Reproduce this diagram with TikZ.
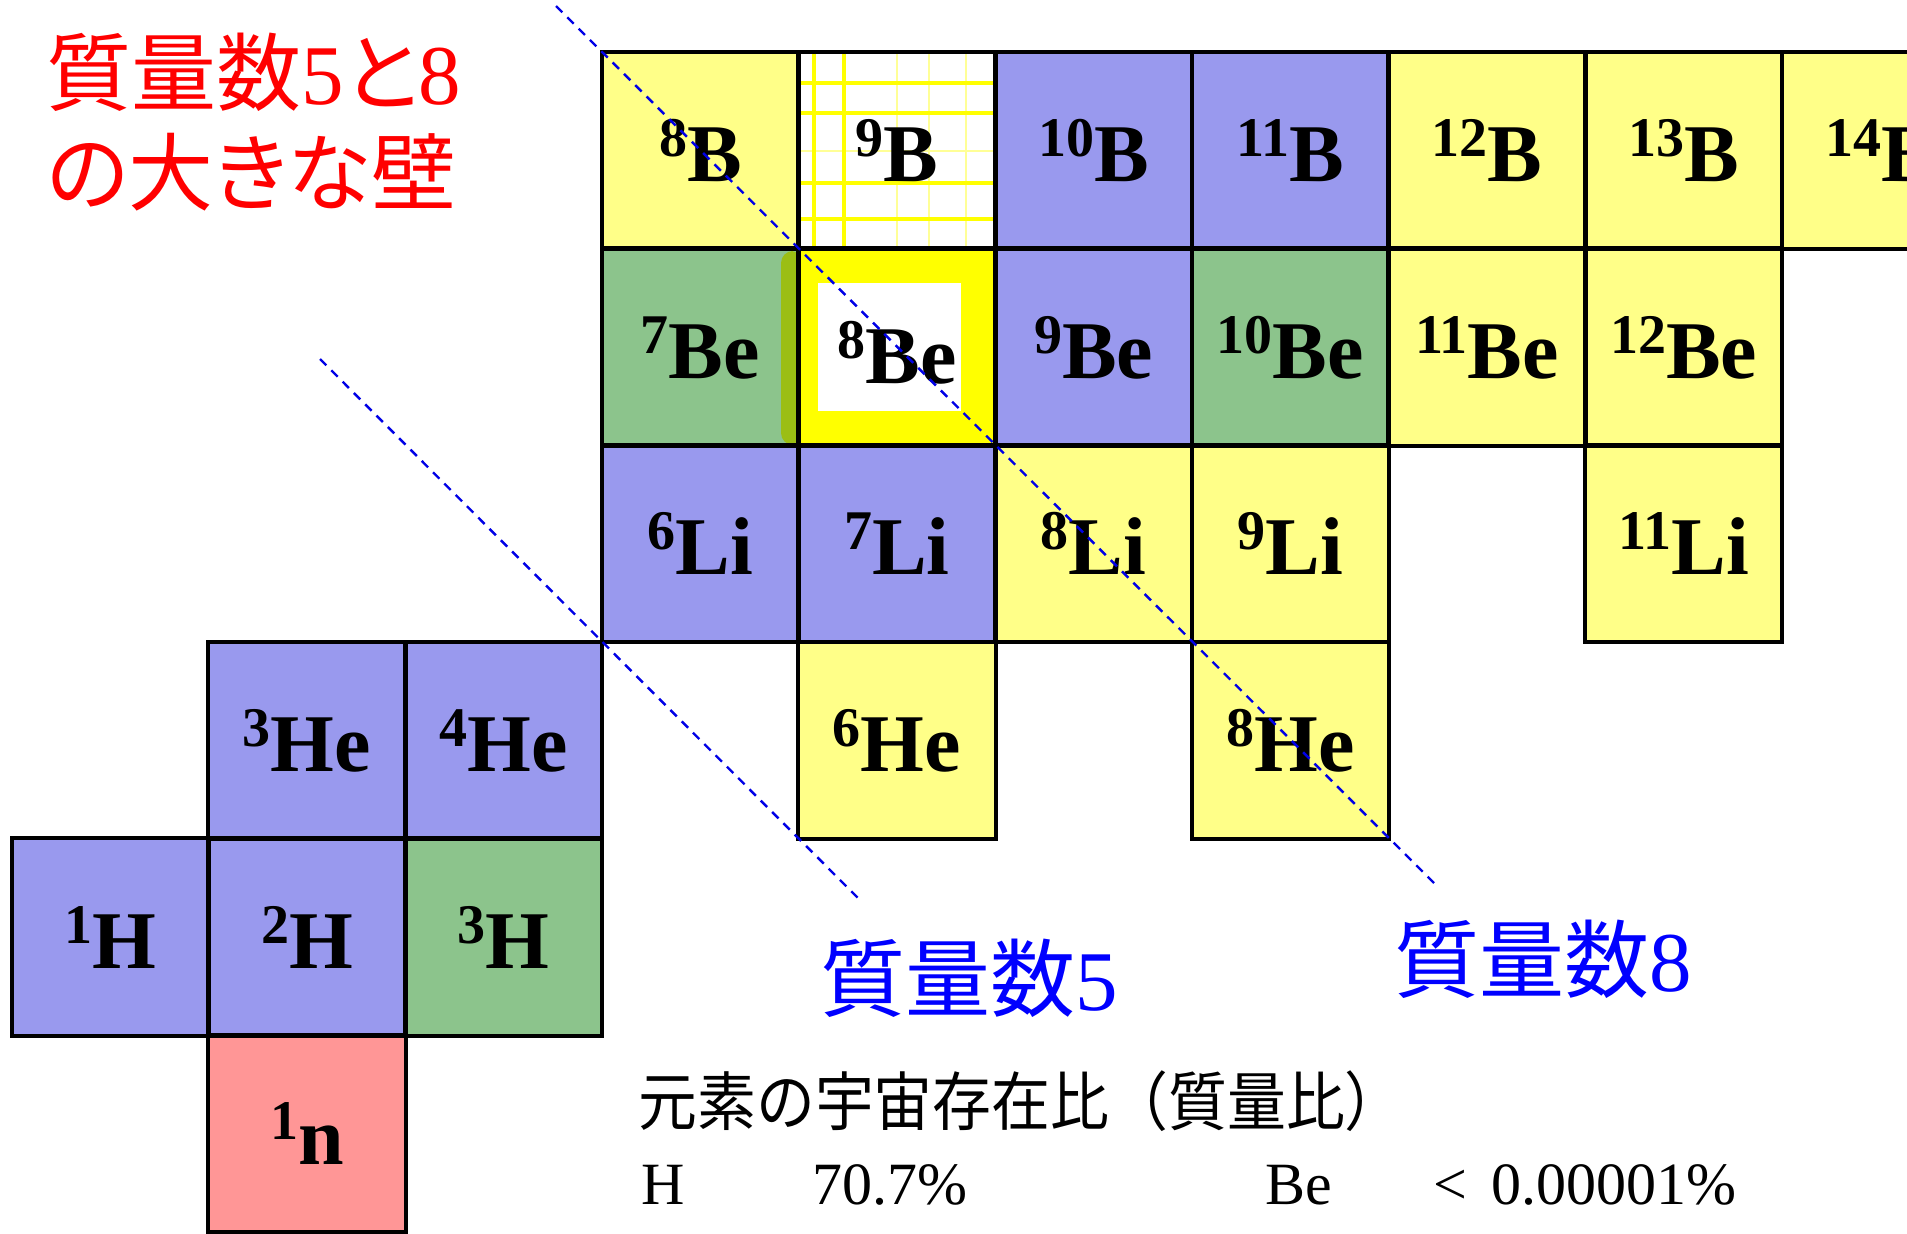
\documentclass[tikz,border=0pt]{standalone}
\usepackage{fontspec}
\setmainfont{Liberation Serif}
\newfontfamily\lser{Liberation Serif}
\newfontfamily\cjk{Noto Sans CJK JP}
\newfontfamily\cjkp[RawFeature=+palt]{Noto Sans CJK JP}
\definecolor{cblue}{RGB}{153,153,238}
\definecolor{cgreen}{RGB}{140,196,140}
\definecolor{cyel}{RGB}{255,255,136}
\definecolor{cred}{RGB}{255,150,150}
\definecolor{cpure}{RGB}{255,255,0}
\definecolor{colive}{RGB}{155,190,20}
\definecolor{gridpale}{RGB}{255,255,150}
\definecolor{txtblue}{RGB}{0,0,255}
\definecolor{txtred}{RGB}{255,0,0}
\definecolor{dashblue}{RGB}{0,0,230}
\newcommand\iso[2]{\raisebox{12.5pt}{\fontsize{28pt}{28pt}\selectfont #1}#2}
\begin{document}
\begin{tikzpicture}[x=0.5pt,y=-0.5pt,
  cellfill/.style={rectangle, inner sep=0pt, minimum width=98.335pt, minimum height=98.335pt, draw=none},
  cellborder/.style={draw=black, line width=2pt},
  lbl/.style={anchor=base, inner sep=0pt, font=\bfseries\fontsize{41pt}{41pt}\selectfont},
  wall/.style={draw=dashblue, line width=1.2pt, dash pattern=on 4.5pt off 3.5pt},
  gridthick/.style={draw=cpure, line width=1.6pt},
  gridthin/.style={draw=gridpale, line width=1pt},
  bigtxt/.style={anchor=base west, inner sep=0pt, font=\fontsize{42.5pt}{50pt}\selectfont},
  smalltxt/.style={anchor=base west, inner sep=0pt, font=\fontsize{30pt}{36pt}\selectfont}]
\path[use as bounding box] (0,0) rectangle (1907,1233);
\fill[white] (0,0) rectangle (1907,1233);
\clip (0,0) rectangle (1907,1233);
\def\cells{3/0/cyel/8/B/B8/31, 4/0/white/9/B/B9/31, 5/0/cblue/10/B/B10/31, 6/0/cblue/11/B/B11/31,
  7/0/cyel/12/B/B12/31, 8/0/cyel/13/B/B13/31, 9/0/cyel/14/B/B14/31,
  3/1/cgreen/7/Be/Be7/31, 4/1/cpure/8/Be/Be8/36, 5/1/cblue/9/Be/Be9/31, 6/1/cgreen/10/Be/Be10/31,
  7/1/cyel/11/Be/Be11/31, 8/1/cyel/12/Be/Be12/31,
  3/2/cblue/6/Li/Li6/31, 4/2/cblue/7/Li/Li7/31, 5/2/cyel/8/Li/Li8/31, 6/2/cyel/9/Li/Li9/31, 8/2/cyel/11/Li/Li11/31,
  1/3/cblue/3/He/He3/31, 2/3/cblue/4/He/He4/31, 4/3/cyel/6/He/He6/31, 6/3/cyel/8/He/He8/31,
  0/4/cblue/1/H/H1/31, 1/4/cblue/2/H/H2/31, 2/4/cgreen/3/H/H3/31,
  1/5/cred/1/n/n1/31}
% fills
\foreach \c/\r/\col/\m/\el/\nm/\dy in \cells {
  \node[cellfill, fill=\col] (\nm) at ({12+(\c+0.5)*196.67},{52+(\r+0.5)*196.67}) {};
}
% 8Be highlight
\fill[colive, rounded corners=6] (781,251) rectangle (803,445);
\fill[cpure] (799,249) rectangle (995,446);
\fill[white] (818,283) rectangle (961,411);
% 9B grid
\foreach \gx in {897,929,966} \draw[gridthin] (\gx,52) -- (\gx,249);
\draw[gridthin] (799,151) -- (995,151);
\foreach \gx in {814,844} \draw[gridthick] (\gx,52) -- (\gx,249);
\foreach \gy in {83,113,183,219} \draw[gridthick] (799,\gy) -- (995,\gy);
% borders
\foreach \c/\r/\col/\m/\el/\nm/\dy in \cells {
  \draw[cellborder] (\nm.south west) rectangle (\nm.north east);
}
% labels
\foreach \c/\r/\col/\m/\el/\nm/\dy in \cells {
  \path (\nm.center) ++(0,\dy) node[lbl] (\nm-l) {\iso{\m}{\el}};
}
% dashed walls
\coordinate (w8s) at (556,6);
\coordinate (w8e) at (1435,884);
\coordinate (w5s) at (320,359);
\coordinate (w5e) at (860,900);
\draw[wall] (w8s) -- (w8e);
\draw[wall] (w5s) -- (w5e);
% texts
\node[bigtxt, text=txtred] (title1) at (46,104) {\cjkp 質量数{\lser 5}と{\lser 8}};
\node[bigtxt, text=txtred] (title2) at (46,204) {\cjkp の大きな壁};
\node[bigtxt, text=txtblue] (mass5) at (820,1010) {\cjk 質量数{\lser 5}};
\node[bigtxt, text=txtblue] (mass8) at (1394,991) {\cjk 質量数{\lser 8}};
\node[smalltxt] (abund) at (638,1125) {\scalebox{0.92}[1]{\fontsize{32pt}{36pt}\selectfont\cjk 元素の宇宙存在比（質量比）}};
\node[smalltxt] (hsym) at (641,1204) {H};
\node[smalltxt] (hval) at (812,1204) {70.7\%};
\node[smalltxt] (besym) at (1265,1204) {Be};
\node[smalltxt] (beval) at (1433,1204) {<\hspace{0.4em}0.00001\%};
\end{tikzpicture}
\end{document}
